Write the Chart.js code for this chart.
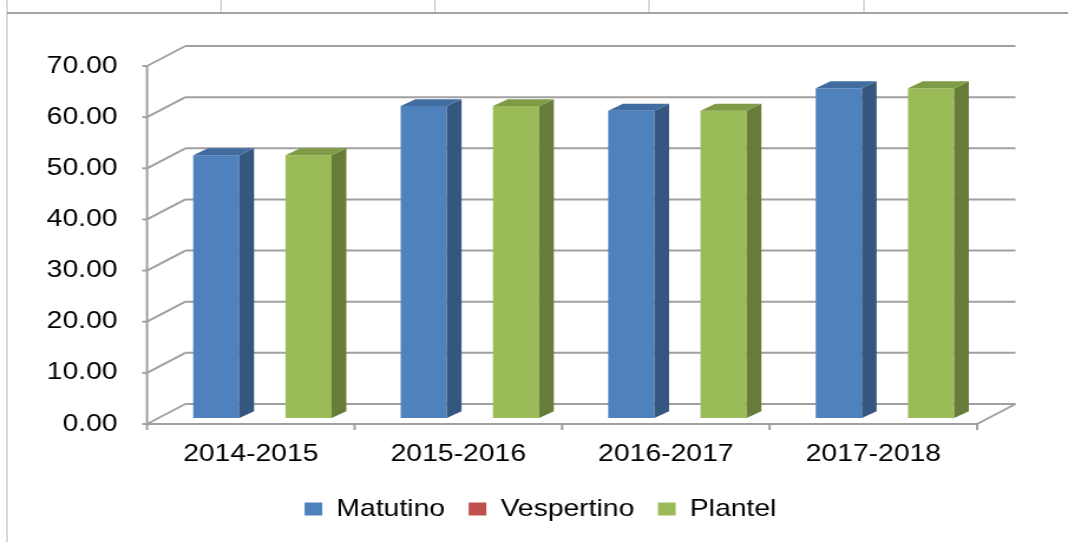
<!DOCTYPE html>
<html lang="es">
<head>
    <meta charset="UTF-8">
    <title>Matutino / Vespertino / Plantel</title>
    <style>
        html, body { margin: 0; padding: 0; background: #fff; overflow: hidden; }
        .page { position: relative; width: 1068px; height: 542px; }
        /* the source picture is wider than tall, so the canvas is stretched sideways */
        .stretch { position: absolute; left: 0; top: 0; width: 905px; height: 542px;
                   transform: scaleX(1.1801); transform-origin: 0 0; }
        .rule { position: absolute; background: #d9d9d9; }
        .rule.top { left: 7px; top: 12px; width: 1061px; height: 2px; background: #a3a3a3; }
        .rule.left { left: 6px; top: 0; width: 2px; height: 542px; }
        .rule.cell { top: 0; width: 2px; height: 12px; }
    </style>
</head>
<body>
<div class="page">
    <div class="stretch">
        <canvas id="chart" width="905" height="542"></canvas>
    </div>
    <div class="rule left"></div>
    <div class="rule top"></div>
    <div class="rule cell" style="left:220px"></div>
    <div class="rule cell" style="left:434px"></div>
    <div class="rule cell" style="left:648px"></div>
    <div class="rule cell" style="left:863px"></div>
</div>

<script src="https://cdn.jsdelivr.net/npm/chart.js"></script>
<script>
    // data
    const years = ['2014-2015', '2015-2016', '2016-2017', '2017-2018'];
    const matutino = [51.4, 61.0, 60.1, 64.5];
    const vespertino = [0, 0, 0, 0];
    const plantel = [51.4, 61.0, 60.1, 64.5];

    const FONT = "'Liberation Sans', Arial, sans-serif";
    const GRID = '#a0a0a0';

    // 3d offsets (canvas px)
    const BACK_DX = 32.5, BACK_DY = -20;   // back wall
    const BAR_DX = 9.8, BAR_DY = -6;       // front face of the bars
    const DEPTH_DX = 12.5, DEPTH_DY = -6.8; // bar depth

    const sideColors = {
        '#4F81BD': { side: '#34567f', top: '#416c9f' },
        '#C0504D': { side: '#8a3532', top: '#a4413e' },
        '#9BBB59': { side: '#667c38', top: '#7f9b45' }
    };

    function line(ctx, x1, y1, x2, y2) {
        ctx.beginPath();
        ctx.moveTo(x1, y1);
        ctx.lineTo(x2, y2);
        ctx.stroke();
    }

    const threeD = {
        id: 'threeD',
        beforeDraw(chart) {
            // legend centred under the plot like in the original
            chart.legend.left = 88;
            chart.legend.right = 828;
        },
        beforeDatasetsDraw(chart) {
            const ctx = chart.ctx;
            const y = chart.scales.y;
            const left = chart.chartArea.left, right = chart.chartArea.right;
            const y0 = y.getPixelForValue(0);
            const yTop = y.getPixelForValue(y.max);

            ctx.save();
            ctx.strokeStyle = GRID;
            ctx.lineWidth = 2;
            y.ticks.forEach(t => {
                const py = y.getPixelForValue(t.value);
                line(ctx, left, py, left + BACK_DX, py + BACK_DY);
                line(ctx, left + BACK_DX, py + BACK_DY, right + BACK_DX, py + BACK_DY);
                line(ctx, left - 4, py, left, py);
            });
            line(ctx, left, yTop, left, y0);
            line(ctx, left, y0, right, y0);
            line(ctx, right, y0, right + BACK_DX, y0 + BACK_DY);
            const n = years.length;
            for (let i = 0; i <= n; i++) {
                const px = left + i * (right - left) / n;
                line(ctx, px, y0, px, y0 + 6);
            }
            ctx.restore();

            // bars sit a bit behind the front plane
            ctx.save();
            ctx.translate(BAR_DX, BAR_DY);
        },
        afterDatasetsDraw(chart) {
            const ctx = chart.ctx;
            chart.data.datasets.forEach((ds, i) => {
                const meta = chart.getDatasetMeta(i);
                const c = sideColors[ds.backgroundColor];
                meta.data.forEach((bar, j) => {
                    if (!ds.data[j]) return;
                    const p = bar.getProps(['x', 'y', 'base', 'width'], true);
                    const l = p.x - p.width / 2, r = p.x + p.width / 2;
                    ctx.fillStyle = c.side;
                    ctx.beginPath();
                    ctx.moveTo(r, p.y);
                    ctx.lineTo(r + DEPTH_DX, p.y + DEPTH_DY);
                    ctx.lineTo(r + DEPTH_DX, p.base + DEPTH_DY);
                    ctx.lineTo(r, p.base);
                    ctx.closePath();
                    ctx.fill();
                    ctx.fillStyle = c.top;
                    ctx.beginPath();
                    ctx.moveTo(l, p.y);
                    ctx.lineTo(l + DEPTH_DX, p.y + DEPTH_DY);
                    ctx.lineTo(r + DEPTH_DX, p.y + DEPTH_DY);
                    ctx.lineTo(r, p.y);
                    ctx.closePath();
                    ctx.fill();
                });
            });
            ctx.restore();
        }
    };

    const ctx = document.getElementById('chart').getContext('2d');
    const chart = new Chart(ctx, {
        type: 'bar',
        data: {
            labels: years,
            datasets: [
                { label: 'Matutino', data: matutino, backgroundColor: '#4F81BD' },
                { label: 'Vespertino', data: vespertino, backgroundColor: '#C0504D' },
                { label: 'Plantel', data: plantel, backgroundColor: '#9BBB59' }
            ]
        },
        options: {
            responsive: false,
            animation: false,
            layout: { padding: { left: 0, right: 77, top: 66, bottom: 11 } },
            datasets: {
                bar: { categoryPercentage: 0.667, barPercentage: 1, borderWidth: 0, clip: false }
            },
            scales: {
                x: {
                    grid: { display: false, drawTicks: false },
                    border: { display: false },
                    ticks: { color: '#000', font: { family: FONT, size: 24 }, padding: 16, maxRotation: 0 },
                    afterFit: s => { s.height = 53; }
                },
                y: {
                    min: 0,
                    max: 70,
                    grid: { display: false, drawTicks: false },
                    border: { display: false },
                    ticks: {
                        stepSize: 10,
                        color: '#000',
                        font: { family: FONT, size: 24 },
                        padding: 25,
                        callback: v => Number(v).toFixed(2)
                    },
                    afterFit: s => { s.width = 124.6; }
                }
            },
            plugins: {
                legend: {
                    position: 'bottom',
                    labels: {
                        color: '#000',
                        font: { family: FONT, size: 24 },
                        boxWidth: 15,
                        boxHeight: 13,
                        padding: 20
                    }
                },
                tooltip: { enabled: false }
            }
        },
        plugins: [threeD]
    });
</script>
</body>
</html>
